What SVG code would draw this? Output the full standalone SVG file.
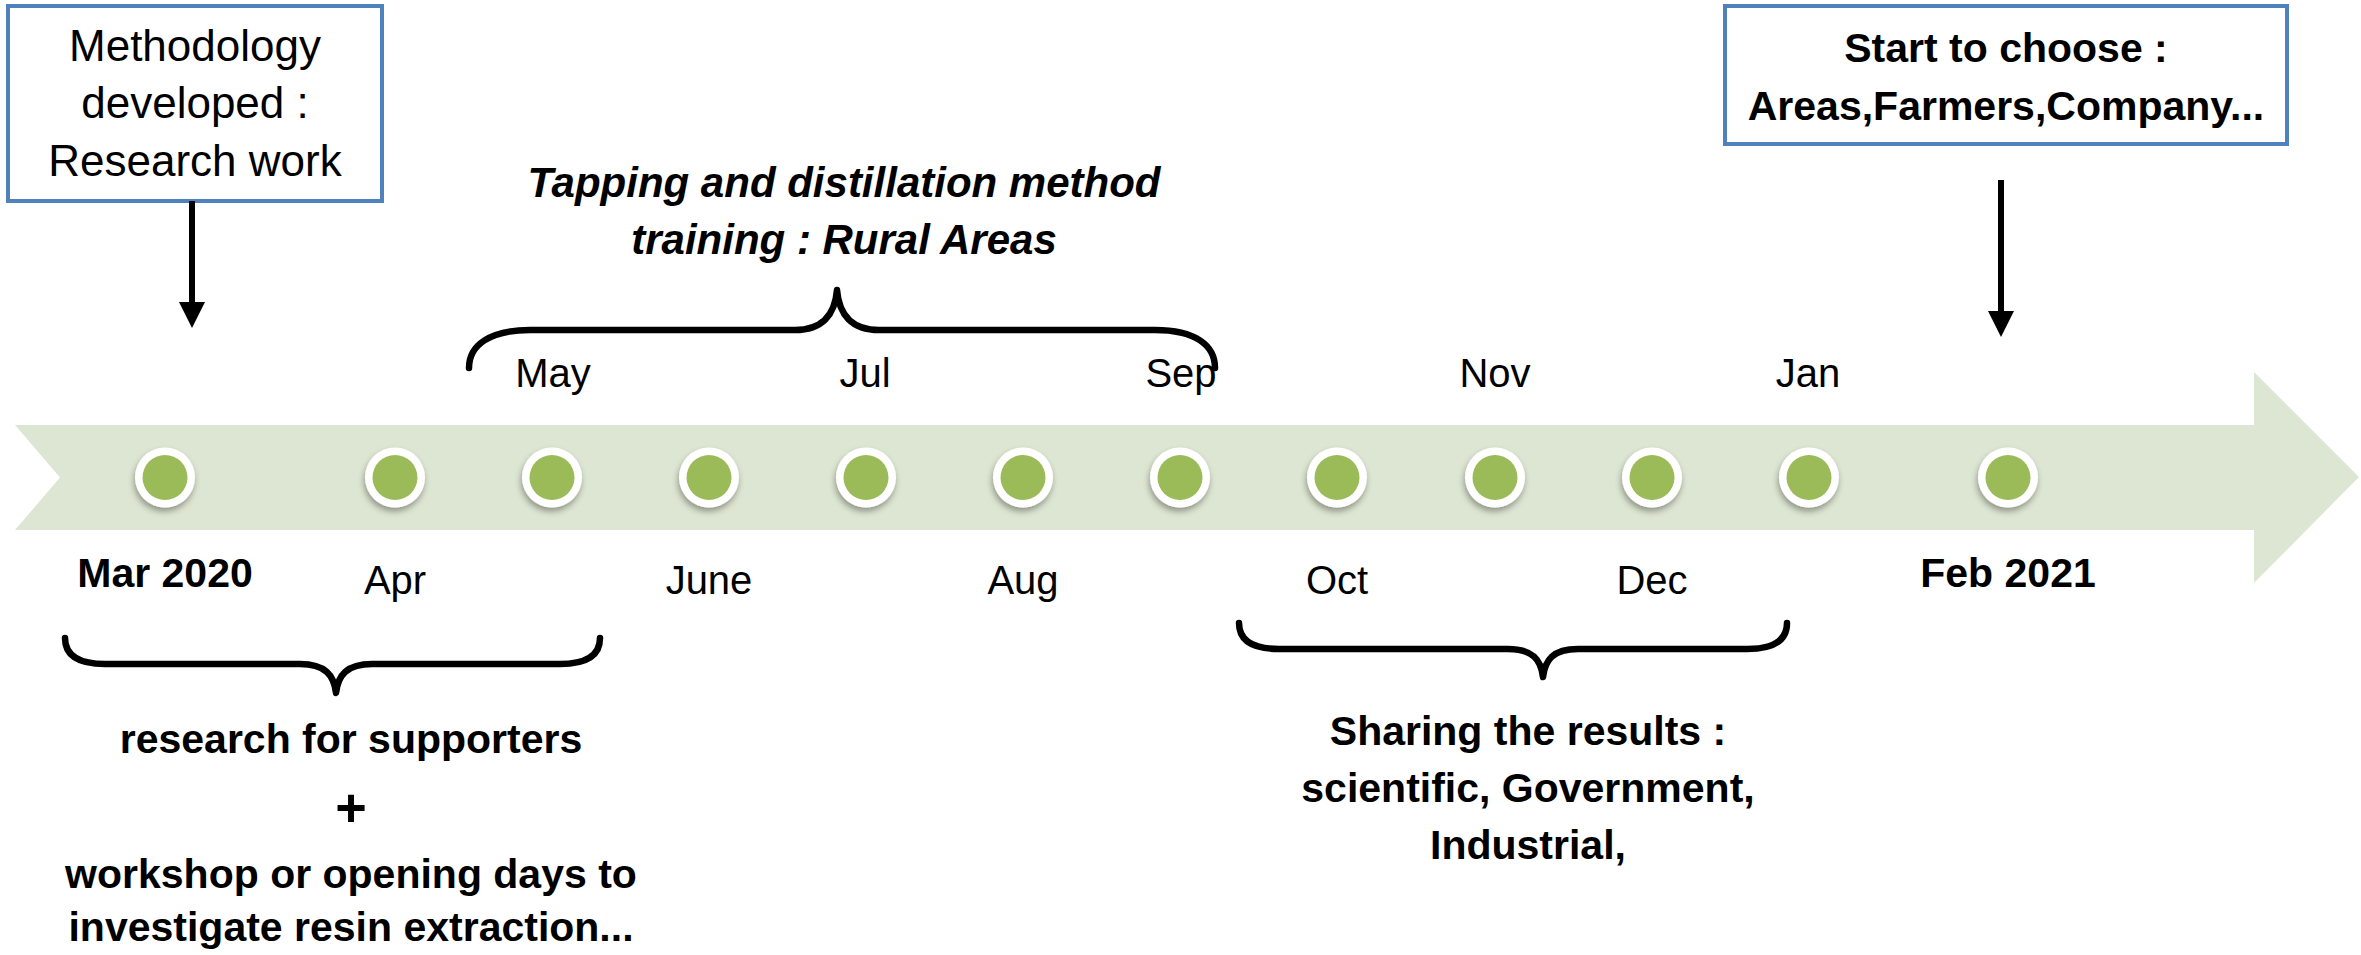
<svg xmlns="http://www.w3.org/2000/svg" width="2361" height="955" viewBox="0 0 2361 955">
  <defs>
    <style>
      .reg { font-family: "Liberation Sans", Arial, sans-serif; font-weight: normal; fill: #000; }
      .bold { font-family: "Liberation Sans", Arial, sans-serif; font-weight: bold; fill: #000; }
      .bi { font-family: "Liberation Sans", Arial, sans-serif; font-weight: bold; font-style: italic; fill: #000; }
      .mid { text-anchor: middle; }
      .box { fill: #ffffff; stroke: #4F81BD; stroke-width: 4; }
      .brace { fill: none; stroke: #000; stroke-width: 6.5; stroke-linecap: round; stroke-linejoin: round; }
      .conn { fill: none; stroke: #000; stroke-width: 6; marker-end: url(#head); }
      .ring { fill: #ffffff; filter: url(#shadow); }
      .dot { fill: #9BBB59; }
    </style>
    <marker id="head" viewBox="0 0 26 26" refX="0" refY="13" markerWidth="26" markerHeight="26" markerUnits="userSpaceOnUse" orient="auto">
      <path d="M0,0 L26,13 L0,26 Z" fill="#000"/>
    </marker>
    <filter id="shadow" x="-50%" y="-50%" width="200%" height="200%">
      <feDropShadow dx="-1" dy="4" stdDeviation="3" flood-color="#000" flood-opacity="0.35"/>
    </filter>
  </defs>

  <rect width="2361" height="955" fill="#ffffff"/>

  <g id="timeline-band">
    <path d="M15,425 L2254,425 L2254,372 L2359,477 L2254,583 L2254,530 L15,530 L60,477.5 Z" fill="#DDE6D2"/>
  </g>

  <g id="milestones">
    <g id="m-mar"><circle class="ring" cx="165" cy="477.5" r="30"/><circle class="dot" cx="165" cy="477.5" r="22.5"/></g>
    <g id="m-apr"><circle class="ring" cx="395" cy="477.5" r="30"/><circle class="dot" cx="395" cy="477.5" r="22.5"/></g>
    <g id="m-may"><circle class="ring" cx="552" cy="477.5" r="30"/><circle class="dot" cx="552" cy="477.5" r="22.5"/></g>
    <g id="m-jun"><circle class="ring" cx="709" cy="477.5" r="30"/><circle class="dot" cx="709" cy="477.5" r="22.5"/></g>
    <g id="m-jul"><circle class="ring" cx="866" cy="477.5" r="30"/><circle class="dot" cx="866" cy="477.5" r="22.5"/></g>
    <g id="m-aug"><circle class="ring" cx="1023" cy="477.5" r="30"/><circle class="dot" cx="1023" cy="477.5" r="22.5"/></g>
    <g id="m-sep"><circle class="ring" cx="1180" cy="477.5" r="30"/><circle class="dot" cx="1180" cy="477.5" r="22.5"/></g>
    <g id="m-oct"><circle class="ring" cx="1337" cy="477.5" r="30"/><circle class="dot" cx="1337" cy="477.5" r="22.5"/></g>
    <g id="m-nov"><circle class="ring" cx="1495" cy="477.5" r="30"/><circle class="dot" cx="1495" cy="477.5" r="22.5"/></g>
    <g id="m-dec"><circle class="ring" cx="1652" cy="477.5" r="30"/><circle class="dot" cx="1652" cy="477.5" r="22.5"/></g>
    <g id="m-jan"><circle class="ring" cx="1809" cy="477.5" r="30"/><circle class="dot" cx="1809" cy="477.5" r="22.5"/></g>
    <g id="m-feb"><circle class="ring" cx="2008" cy="477.5" r="30"/><circle class="dot" cx="2008" cy="477.5" r="22.5"/></g>
  </g>

  <g id="month-labels">
    <text class="reg mid" x="553" y="387" font-size="40">May</text>
    <text class="reg mid" x="865" y="387" font-size="40">Jul</text>
    <text class="reg mid" x="1181" y="387" font-size="40">Sep</text>
    <text class="reg mid" x="1495" y="387" font-size="40">Nov</text>
    <text class="reg mid" x="1808" y="387" font-size="40">Jan</text>
    <text class="bold mid" x="165" y="587" font-size="41">Mar 2020</text>
    <text class="reg mid" x="395" y="594" font-size="40">Apr</text>
    <text class="reg mid" x="709" y="594" font-size="40">June</text>
    <text class="reg mid" x="1023" y="594" font-size="40">Aug</text>
    <text class="reg mid" x="1337" y="594" font-size="40">Oct</text>
    <text class="reg mid" x="1652" y="594" font-size="40">Dec</text>
    <text class="bold mid" x="2008" y="587" font-size="41">Feb 2021</text>
  </g>

  <g id="box-methodology">
    <rect class="box" x="8" y="6" width="374" height="195"/>
    <text class="reg mid" x="195" y="61" font-size="44">Methodology</text>
    <text class="reg mid" x="195" y="118" font-size="44">developed :</text>
    <text class="reg mid" x="195" y="176" font-size="44">Research work</text>
  </g>

  <g id="box-start">
    <rect class="box" x="1725" y="6" width="562" height="138"/>
    <text class="bold mid" x="2006" y="62" font-size="41">Start to choose :</text>
    <text class="bold mid" x="2006" y="120" font-size="41">Areas,Farmers,Company...</text>
  </g>

  <g id="connectors">
    <line class="conn" x1="192" y1="201" x2="192" y2="302"/>
    <line class="conn" x1="2001" y1="180" x2="2001" y2="311"/>
  </g>

  <g id="brace-training">
    <path class="brace" d="M469,368 C469,345 490,330 530,330 L795,330 C822,330 835,315 837,290 C839,315 852,330 879,330 L1155,330 C1195,330 1215,345 1215,368"/>
    <text class="bi mid" x="844" y="197" font-size="42">Tapping and distillation method</text>
    <text class="bi mid" x="844" y="254" font-size="42">training : Rural Areas</text>
  </g>

  <g id="brace-research">
    <path class="brace" d="M65,638 C65,655 78,664 105,664 L300,664 C325,664 334,675 336,693 C338,675 347,664 372,664 L560,664 C587,664 600,655 600,638"/>
    <text class="bold mid" x="351" y="753" font-size="41">research for supporters</text>
    <text class="bold mid" x="351" y="826" font-size="54">+</text>
    <text class="bold mid" x="351" y="888" font-size="41">workshop or opening days to</text>
    <text class="bold mid" x="351" y="941" font-size="41">investigate resin extraction...</text>
  </g>

  <g id="brace-sharing">
    <path class="brace" d="M1239,623 C1239,640 1252,649 1279,649 L1508,649 C1533,649 1541,660 1543,677 C1545,660 1553,649 1578,649 L1747,649 C1774,649 1787,640 1787,623"/>
    <text class="bold mid" x="1528" y="745" font-size="41">Sharing the results :</text>
    <text class="bold mid" x="1528" y="802" font-size="41">scientific, Government,</text>
    <text class="bold mid" x="1528" y="859" font-size="41">Industrial,</text>
  </g>
</svg>
